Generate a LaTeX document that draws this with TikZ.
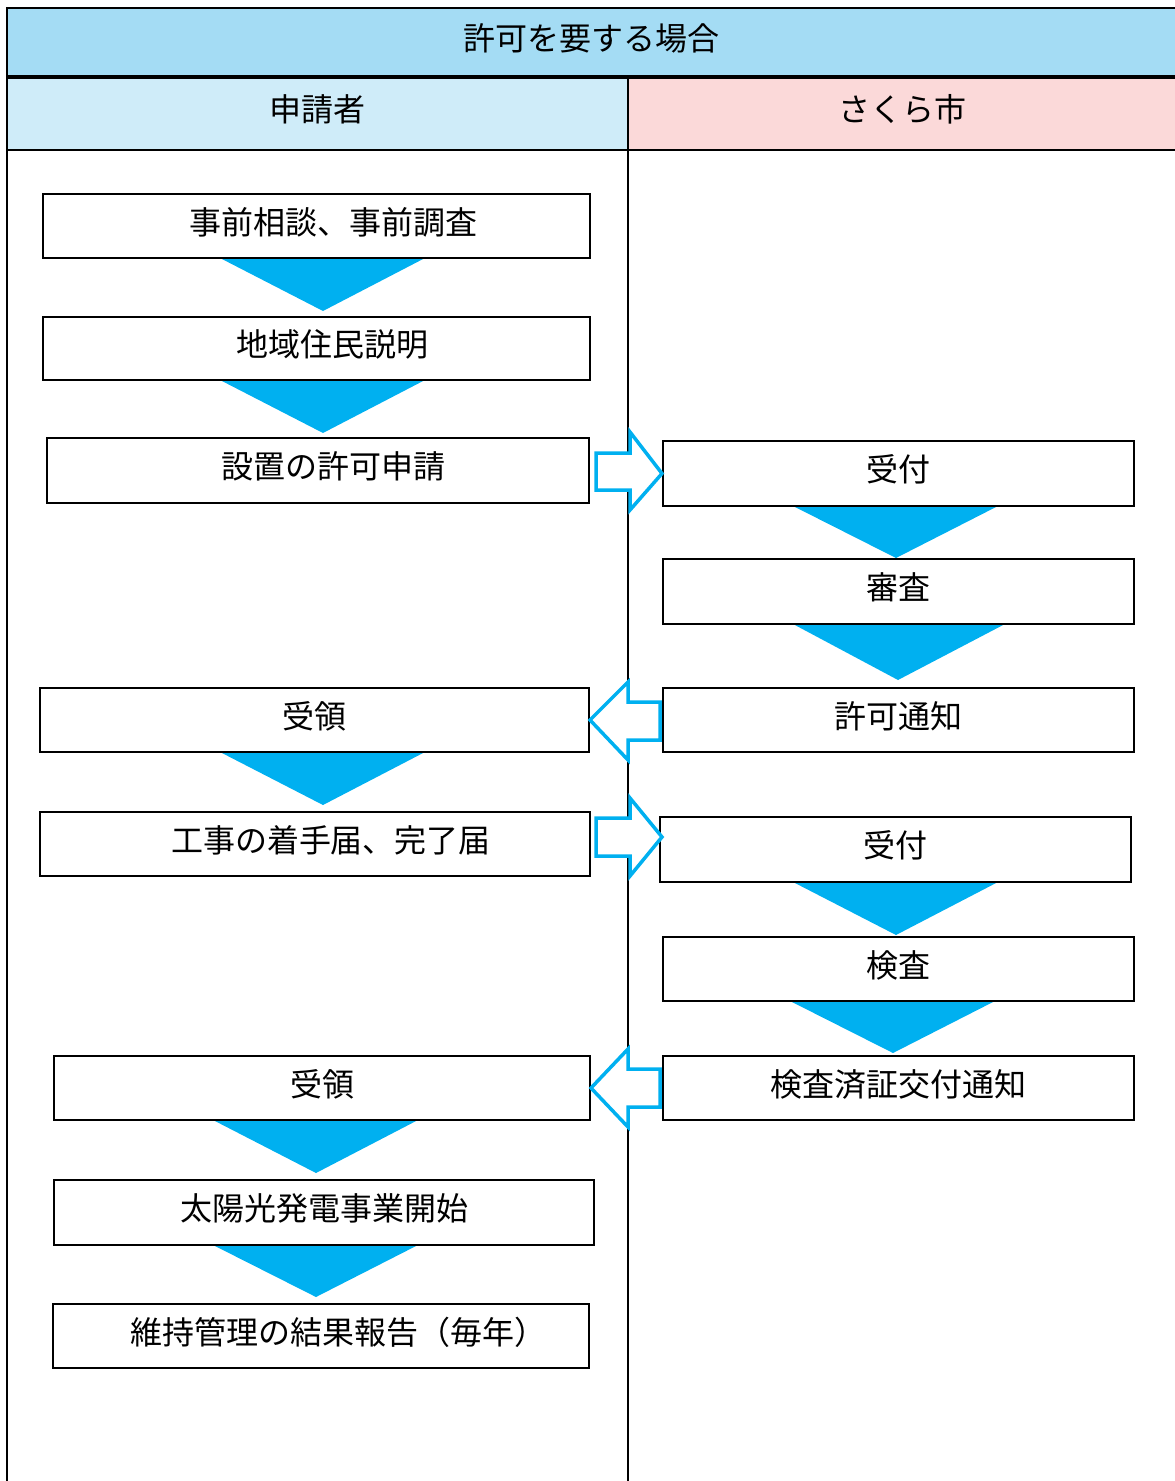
\documentclass[tikz,border=0pt]{standalone}
\usepackage{fontspec}
\setmainfont{Noto Sans CJK JP}
\definecolor{cyanA}{HTML}{00B0F0}
\definecolor{hdrA}{HTML}{A4DCF4}
\definecolor{hdrB}{HTML}{CFECF9}
\definecolor{hdrC}{HTML}{FBD9D9}
\begin{document}
\begin{tikzpicture}[x=1pt,y=-1pt,
  box/.style={draw=black,line width=2pt,fill=white,inner sep=0pt,text height=28pt,text depth=11.6pt,font=\fontsize{32}{38}\selectfont},
  hdr/.style={draw=none,inner sep=0pt,text height=28pt,text depth=11.6pt,font=\fontsize{32}{38}\selectfont},
  tri/.style={fill=cyanA,draw=none},
  barrow/.style={draw=cyanA,line width=3.5pt,fill=white,line join=miter},
  frame/.style={draw=black,line width=2.2pt}]
\useasboundingbox (0,0) rectangle (1175,1481);
% header cells
\node[hdr,fill=hdrA,minimum width=1169pt,minimum height=69pt] (title) at (591.5,42.5) {許可を要する場合};
\node[hdr,fill=hdrB,minimum width=621pt,minimum height=73pt] (appl) at (317.5,113.5) {申請者};
\node[hdr,fill=hdrC,minimum width=548pt,minimum height=73pt] (city) at (902,113.5) {さくら市};
% frame
\draw[frame] (7,1481) -- (7,8) -- (1176,8);
\draw[draw=black,line width=3.5pt] (7,77) -- (1176,77);
\draw[frame] (7,150) -- (1176,150);
\draw[frame] (628,77) -- (628,1481);
% triangles
\fill[tri] (220,258) -- (425,258) -- (323,311) -- cycle;
\fill[tri] (220,380) -- (425,380) -- (323,433) -- cycle;
\fill[tri] (793,506) -- (998,506) -- (896,558) -- cycle;
\fill[tri] (793,624) -- (1005,624) -- (898,680) -- cycle;
\fill[tri] (220,752) -- (425,752) -- (323,805) -- cycle;
\fill[tri] (793,882) -- (998,882) -- (896,935) -- cycle;
\fill[tri] (790,1001) -- (995,1001) -- (893,1053) -- cycle;
\fill[tri] (213,1120) -- (418,1120) -- (316,1173) -- cycle;
\fill[tri] (213,1245) -- (418,1245) -- (316,1297) -- cycle;
% boxes applicant
\node[box,minimum width=547pt,minimum height=64pt] (b1) at (316.5,226) {\hspace*{33pt}事前相談、事前調査};
\node[box,minimum width=547pt,minimum height=63pt] (b2) at (316.5,348.5) {\hspace*{31pt}地域住民説明};
\node[box,minimum width=542pt,minimum height=65pt] (b3) at (318,470.5) {\hspace*{30pt}設置の許可申請};
\node[box,minimum width=549pt,minimum height=64pt] (b4) at (314.5,720) {受領};
\node[box,minimum width=550pt,minimum height=64pt] (b5) at (315,844) {\hspace*{32pt}工事の着手届、完了届};
\node[box,minimum width=536pt,minimum height=64pt] (b6) at (322,1088) {受領};
\node[box,minimum width=540pt,minimum height=65pt] (b7) at (324,1212.5) {太陽光発電事業開始};
\node[box,minimum width=536pt,minimum height=64pt] (b8) at (321,1336) {\hspace*{34pt}維持管理の結果報告（毎年）};
% boxes city
\node[box,minimum width=471pt,minimum height=65pt] (r1) at (898.5,473.5) {受付};
\node[box,minimum width=471pt,minimum height=65pt] (r2) at (898.5,591.5) {審査};
\node[box,minimum width=471pt,minimum height=64pt] (r3) at (898.5,720) {許可通知};
\node[box,minimum width=471pt,minimum height=65pt] (r4) at (895.5,849.5) {受付};
\node[box,minimum width=471pt,minimum height=64pt] (r5) at (898.5,969) {検査};
\node[box,minimum width=471pt,minimum height=64pt] (r6) at (898.5,1088) {検査済証交付通知};
% block arrows
\draw[barrow] (596,453) -- (630,453) -- (630,432) -- (r1.west) -- (630,510) -- (630,490) -- (596,490) -- cycle;
\draw[barrow] (660,702) -- (628,702) -- (628,682) -- (b4.east) -- (628,760) -- (628,740) -- (660,740) -- cycle;
\draw[barrow] (596,818) -- (630,818) -- (630,798) -- (662,837) -- (630,876) -- (630,856) -- (596,856) -- cycle;
\draw[barrow] (660,1069) -- (628,1069) -- (628,1049) -- (b6.east) -- (628,1127) -- (628,1107) -- (660,1107) -- cycle;
\end{tikzpicture}
\end{document}
